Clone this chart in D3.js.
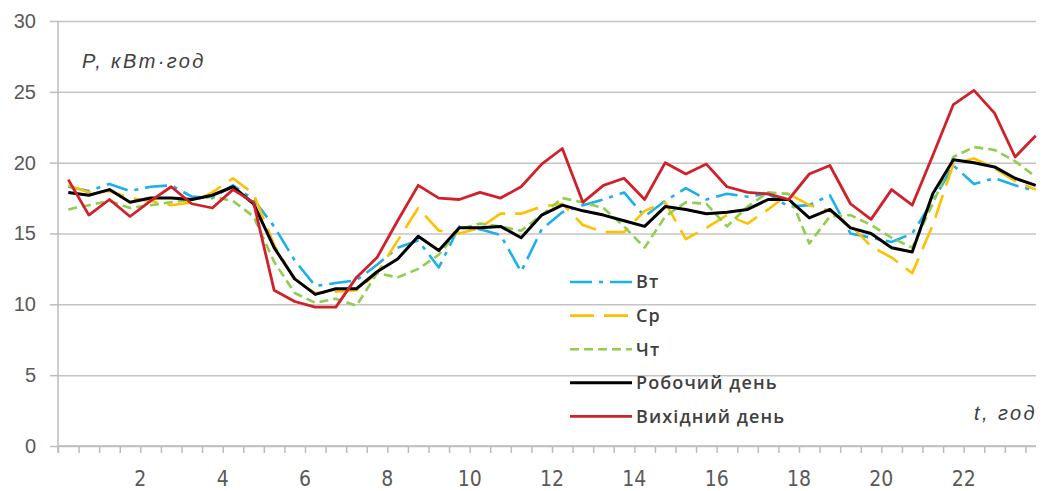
<!DOCTYPE html>
<html>
<head>
<meta charset="utf-8">
<script src="https://cdn.jsdelivr.net/npm/d3@7"></script>
<style>
  body { margin: 0; background: #fff; }
  svg { display: block; }
</style>
</head>
<body>
<svg id="chart" width="1043" height="491"></svg>
<script>
// half-hour readings, 48 points per day
var hours = d3.range(48).map(function(i) { return (i + 0.5) / 2; });

var tue = [18.3, 18.0, 18.5, 18.0, 18.3, 18.4, 17.6, 17.5, 18.4, 17.4,
           15.5, 13.1, 11.3, 11.5, 11.7, 12.8, 14.0, 14.5, 12.6, 15.5,
           15.3, 14.9, 12.3, 15.3, 16.5, 17.0, 17.4, 17.9, 16.2, 17.3,
           18.2, 17.4, 17.8, 17.6, 17.8, 16.9, 17.0, 17.7, 15.0, 14.7,
           14.4, 15.0, 17.3, 19.8, 18.5, 18.9, 18.4, 18.0];
var wed = [18.4, 17.9, 18.0, 17.5, 17.3, 17.0, 17.2, 17.9, 18.9, 17.8,
           14.2, 11.7, 10.8, 10.9, 11.0, 12.2, 14.5, 16.8, 15.2, 15.0,
           15.4, 16.4, 16.4, 16.9, 17.1, 15.6, 15.1, 15.1, 16.6, 17.2,
           14.6, 15.4, 16.3, 15.7, 16.7, 17.8, 17.0, 16.6, 15.6, 14.1,
           13.3, 12.2, 15.6, 19.9, 20.3, 19.6, 18.7, 18.1];
var thu = [16.7, 17.0, 17.3, 16.8, 17.0, 17.2, 17.4, 17.6, 17.3, 16.2,
           13.0, 10.8, 10.1, 10.4, 9.9, 12.2, 11.9, 12.5, 13.5, 15.3,
           15.7, 15.5, 15.2, 16.3, 17.5, 17.2, 16.8, 15.5, 14.0, 16.2,
           17.2, 17.1, 15.5, 16.9, 17.9, 17.8, 14.3, 16.2, 16.3, 15.6,
           14.7, 14.0, 17.1, 20.4, 21.1, 20.9, 20.1, 19.0];
var workday = [17.9, 17.7, 18.1, 17.2, 17.5, 17.5, 17.4, 17.7, 18.3, 17.1,
               14.0, 11.8, 10.7, 11.1, 11.1, 12.3, 13.2, 14.8, 13.8, 15.4,
               15.4, 15.5, 14.7, 16.3, 17.0, 16.6, 16.3, 15.9, 15.5, 16.9,
               16.7, 16.4, 16.5, 16.7, 17.4, 17.4, 16.1, 16.7, 15.4, 15.0,
               14.0, 13.7, 17.8, 20.2, 20.0, 19.7, 18.9, 18.4];
var weekend = [18.8, 16.3, 17.4, 16.2, 17.3, 18.3, 17.1, 16.8, 18.1, 17.2,
               11.0, 10.2, 9.8, 9.8, 11.9, 13.3, 15.9, 18.4, 17.5, 17.4,
               17.9, 17.5, 18.3, 19.9, 21.0, 17.2, 18.4, 18.9, 17.4, 20.0,
               19.2, 19.9, 18.3, 17.9, 17.8, 17.4, 19.2, 19.8, 17.1, 16.0,
               18.1, 17.0, 20.5, 24.1, 25.1, 23.5, 20.4, 21.9];

var seriesNames = ["Вт", "Ср", "Чт", "Робочий день", "Вихідний день"];
var seriesValues = [tue, wed, thu, workday, weekend];
var xLabels = [2, 4, 6, 8, 10, 12, 14, 16, 18, 20, 22];
var yTicks = [0, 5, 10, 15, 20, 25, 30];

var colors = ["#1ab0ec", "#ffc000", "#8fce4f", "#000000", "#d2202a"];
var dashes = ["22,7,4,7", "24,10", "9,5", null, null];
var widths = [2.6, 2.6, 2.6, 3, 2.8];

var svg = d3.select("#chart");
var plotLeft = 58, plotRight = 1036, plotTop = 21, plotBottom = 446;

var x = d3.scaleLinear().domain([0, 24]).range([plotLeft, 1046]);
var y = d3.scaleLinear().domain([0, 30]).range([plotBottom, plotTop]);

// gridlines + y labels
var yAxis = svg.append("g")
    .attr("transform", "translate(" + plotLeft + ",0)")
    .call(d3.axisLeft(y).tickValues(yTicks).tickSize(8).tickPadding(14));
yAxis.select(".domain").remove();
yAxis.selectAll("line").attr("stroke", "#bcbcbc").attr("stroke-width", 1.5);
yAxis.selectAll(".tick").append("line")
    .attr("x1", 0).attr("x2", plotRight - plotLeft)
    .attr("stroke", "#c4c4c4").attr("stroke-width", 1.5);
yAxis.selectAll("text")
    .attr("fill", "#595959")
    .style("font-family", "'Liberation Sans', Arial, sans-serif")
    .style("font-size", "20px");

svg.append("line")
    .attr("x1", plotLeft).attr("x2", plotLeft).attr("y1", plotTop).attr("y2", plotBottom + 7)
    .attr("stroke", "#bcbcbc").attr("stroke-width", 1.5);

// x axis
var xAxis = svg.append("g")
    .attr("transform", "translate(0," + plotBottom + ")")
    .call(d3.axisBottom(x).tickValues(d3.range(0, 24, 0.5)).tickSize(7).tickFormat(""));
xAxis.select(".domain").remove();
xAxis.selectAll("line").attr("stroke", "#bcbcbc").attr("stroke-width", 1.5);
svg.append("line")
    .attr("x1", plotLeft).attr("x2", plotRight).attr("y1", plotBottom).attr("y2", plotBottom)
    .attr("stroke", "#bcbcbc").attr("stroke-width", 1.5);

svg.append("g").selectAll("text")
    .data(xLabels)
    .enter()
    .append("text")
    .attr("x", function(d) { return x(d); })
    .attr("y", 486)
    .attr("text-anchor", "middle")
    .attr("fill", "#595959")
    .style("font-family", "'DejaVu Sans Condensed', 'Liberation Sans Narrow', sans-serif")
    .style("font-size", "21px")
    .text(function(d) { return d; });

// series
svg.append("clipPath").attr("id", "plot")
    .append("rect").attr("x", plotLeft).attr("y", 0)
    .attr("width", plotRight - plotLeft + 4).attr("height", plotBottom);

var line = d3.line()
    .x(function(d, i) { return x(hours[i]); })
    .y(function(d) { return y(d); });

svg.append("g").attr("clip-path", "url(#plot)")
    .selectAll("path")
    .data(seriesValues)
    .enter()
    .append("path")
    .attr("d", line)
    .attr("fill", "none")
    .attr("stroke", function(d, i) { return colors[i]; })
    .attr("stroke-width", function(d, i) { return widths[i]; })
    .attr("stroke-linejoin", "round")
    .attr("stroke-dasharray", function(d, i) { return dashes[i]; });

// legend
var legend = svg.append("g").selectAll("g")
    .data(seriesNames)
    .enter()
    .append("g")
    .attr("transform", function(d, i) { return "translate(570," + (282 + i * 33.6) + ")"; });
legend.append("line")
    .attr("x1", 0).attr("x2", 62)
    .attr("stroke", function(d, i) { return colors[i]; })
    .attr("stroke-width", function(d, i) { return widths[i]; })
    .attr("stroke-dasharray", function(d, i) { return dashes[i]; });
legend.append("text")
    .attr("x", 66)
    .attr("dy", "0.36em")
    .attr("fill", "#404040")
    .style("font-family", "'Open Sans', sans-serif")
    .style("font-weight", 600)
    .style("font-size", "18px")
    .style("letter-spacing", "1.1px")
    .text(function(d) { return d; });

// axis titles
svg.append("text")
    .attr("x", 82).attr("y", 68)
    .attr("fill", "#404040")
    .style("font-family", "'Liberation Sans', Arial, sans-serif")
    .style("font-style", "italic")
    .style("font-size", "20px")
    .style("letter-spacing", "2.4px")
    .text("P,  кВт·год");
svg.append("text")
    .attr("x", 1037).attr("y", 420)
    .attr("text-anchor", "end")
    .attr("fill", "#404040")
    .style("font-family", "'Liberation Sans', Arial, sans-serif")
    .style("font-style", "italic")
    .style("font-size", "20px")
    .style("letter-spacing", "2.4px")
    .text("t,  год");
</script>
</body>
</html>
